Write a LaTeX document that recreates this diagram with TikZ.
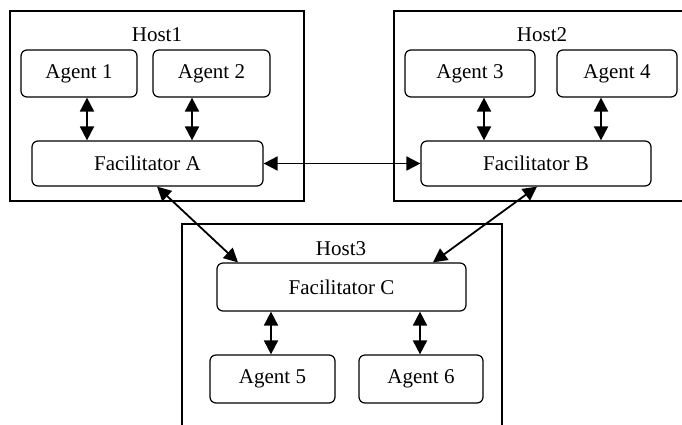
\documentclass[tikz,border=0pt]{standalone}
\usepackage{fontspec}
\setmainfont{Liberation Serif}
\usetikzlibrary{arrows.meta}
\begin{document}
\begin{tikzpicture}[x=1pt,y=-1pt,
  every node/.style={font=\fontsize{21}{24}\selectfont},
  hostbox/.style={draw,line width=1.3pt},
  agentbox/.style={draw,line width=1.2pt,rounded corners=6pt,inner sep=0pt},
  biarrow/.style={line width=1.8pt,{Triangle[length=14pt,width=14pt]}-{Triangle[length=14pt,width=14pt]}},
  onearrow/.style={line width=1.5pt,-{Triangle[length=14pt,width=14pt]}}]
\useasboundingbox (0,0) rectangle (682,424);
% hosts
\draw[hostbox] (10,11) rectangle (304,201);
\draw[hostbox] (394,11) rectangle (700,201);
\draw[hostbox] (182,224) rectangle (502,440);
\node (h1) at (157,35) {Host1};
\node (h2) at (542,35) {Host2};
\node (h3) at (341,249) {Host3};
% agents
\node[agentbox,minimum width=116pt,minimum height=47pt] (a1) at (79,73.5) {Agent 1};
\node[agentbox,minimum width=117pt,minimum height=47pt] (a2) at (211.5,73.5) {Agent 2};
\node[agentbox,minimum width=130pt,minimum height=47pt] (a3) at (470,73.5) {Agent 3};
\node[agentbox,minimum width=120pt,minimum height=47pt] (a4) at (617,73.5) {Agent 4};
\node[agentbox,minimum width=231pt,minimum height=45pt] (fa) at (147.5,163.5) {Facilitator A};
\node[agentbox,minimum width=230pt,minimum height=45pt] (fb) at (536,163.5) {Facilitator B};
\node[agentbox,minimum width=249pt,minimum height=48pt] (fc) at (341.5,287) {Facilitator C};
\node[agentbox,minimum width=125pt,minimum height=48pt] (a5) at (272.5,379) {Agent 5};
\node[agentbox,minimum width=124pt,minimum height=48pt] (a6) at (421,379) {Agent 6};
% vertical links
\draw[biarrow] ([xshift=8pt]a1.south) -- ([xshift=8pt]a1.south |- fa.north);
\draw[biarrow] ([xshift=-19.5pt]a2.south) -- ([xshift=-19.5pt]a2.south |- fa.north);
\draw[biarrow] ([xshift=14pt]a3.south) -- ([xshift=14pt]a3.south |- fb.north);
\draw[biarrow] ([xshift=-16pt]a4.south) -- ([xshift=-16pt]a4.south |- fb.north);
\draw[biarrow] ([xshift=-1.5pt]a5.north) -- ([xshift=-1.5pt]a5.north |- fc.south);
\draw[biarrow] ([xshift=-1pt]a6.north) -- ([xshift=-1pt]a6.north |- fc.south);
% links between facilitators
\draw[biarrow] (fa.east) -- (fb.west);
\draw[biarrow] ([xshift=9.5pt]fa.south) -- ([xshift=-103.5pt]fc.north);
\draw[biarrow] ([xshift=1pt]fb.south) -- ([xshift=91.5pt]fc.north);
\end{tikzpicture}
\end{document}
